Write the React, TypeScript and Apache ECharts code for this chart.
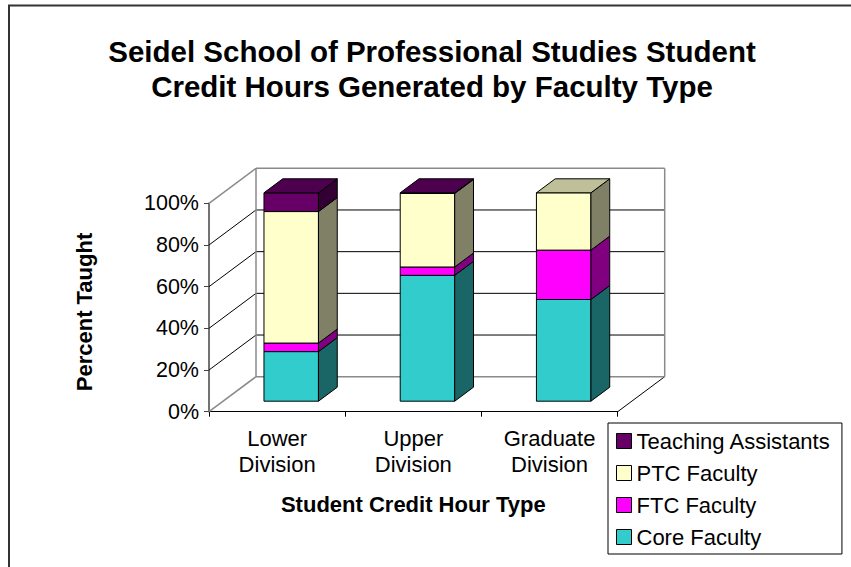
import { useEffect, useRef } from 'react';
import * as echarts from 'echarts';

const CATEGORIES = ['Lower\nDivision', 'Upper\nDivision', 'Graduate\nDivision'];
const SERIES_NAMES = ['Core Faculty', 'FTC Faculty', 'PTC Faculty', 'Teaching Assistants'];
const CORE = [23.8, 60.4, 48.8];
const FTC = [4.1, 4.0, 23.7];
const PTC = [63.1, 35.3, 27.5];
const TA = [9.0, 0.3, 0];
const Y_TICKS = [0, 20, 40, 60, 80, 100];

const FRONT_COLORS = ['#33CCCC', '#FF00FF', '#FFFFCC', '#660066'];
const SIDE_COLORS = ['#1A6666', '#800080', '#808066', '#330033'];
const TOP_COLORS = ['#269999', '#BF00BF', '#BFBF99', '#4D004D'];

const FONT = '"Liberation Sans", Arial, sans-serif';
const DEPTH_X = 47;
const DEPTH_Y = 35;
const BAR_W = 0.4;
const D_FRONT = 0.3;
const D_BACK = 0.7;
const GRAY = '#8a8a8a';
const BLACK = '#000000';

function seg(x1: number, y1: number, x2: number, y2: number, color: string, w: number) {
  return {
    type: 'line',
    shape: { x1, y1, x2, y2 },
    style: { stroke: color, lineWidth: w },
  };
}

export default function App() {
  const ref = useRef<HTMLDivElement>(null);

  useEffect(() => {
    if (!ref.current) return;
    const chart = echarts.init(ref.current, undefined, { renderer: 'svg' });
    const values = [CORE, FTC, PTC, TA];
    const n = CATEGORIES.length;

    const topIndex = CATEGORIES.map((_, i) => {
      let t = -1;
      values.forEach((arr, k) => {
        if (arr[i] > 0) t = k;
      });
      return t;
    });

    const renderWalls = (_params: any, api: any) => {
      const bw = api.size([1, 0])[0];
      const x0 = api.coord([0, 0])[0] - bw / 2;
      const x1 = api.coord([n - 1, 0])[0] + bw / 2;
      const yOf = (v: number) => api.coord([0, v])[1];
      const last = Y_TICKS.length - 1;
      const yMin = yOf(Y_TICKS[0]);
      const yMax = yOf(Y_TICKS[last]);
      const children: any[] = [];
      Y_TICKS.forEach((v, k) => {
        const y = yOf(v);
        if (k !== 0 && k !== last) {
          children.push(seg(x0, y, x0 + DEPTH_X, y - DEPTH_Y, BLACK, 1));
          children.push(seg(x0 + DEPTH_X, y - DEPTH_Y, x1 + DEPTH_X, y - DEPTH_Y, BLACK, 1));
        }
      });
      children.push(seg(x1, yMin, x1 + DEPTH_X, yMin - DEPTH_Y, BLACK, 1));
      [Y_TICKS[0], Y_TICKS[last]].forEach((v) => {
        const y = yOf(v);
        children.push(seg(x0, y, x0 + DEPTH_X, y - DEPTH_Y, GRAY, 1.5));
        children.push(seg(x0 + DEPTH_X, y - DEPTH_Y, x1 + DEPTH_X, y - DEPTH_Y, GRAY, 1.5));
      });
      children.push(seg(x0 + DEPTH_X, yMin - DEPTH_Y, x0 + DEPTH_X, yMax - DEPTH_Y, GRAY, 1.5));
      children.push(seg(x1 + DEPTH_X, yMin - DEPTH_Y, x1 + DEPTH_X, yMax - DEPTH_Y, GRAY, 1.5));
      return { type: 'group', children };
    };

    const makeRender = (k: number) => (_params: any, api: any) => {
      const i = api.value(0);
      const b = api.value(1);
      const t = api.value(2);
      const isTop = api.value(3) === 1;
      if (t - b <= 0) return null;
      const bw = api.size([1, 0])[0];
      const c0 = api.coord([i, b]);
      const c1 = api.coord([i, t]);
      const fx = DEPTH_X * D_FRONT;
      const fy = DEPTH_Y * D_FRONT;
      const ddx = DEPTH_X * (D_BACK - D_FRONT);
      const ddy = DEPTH_Y * (D_BACK - D_FRONT);
      const w = bw * BAR_W;
      const xl = c0[0] - w / 2 + fx;
      const xr = xl + w;
      const yb = c0[1] - fy;
      const yt = c1[1] - fy;
      const stroke = { stroke: '#000', lineWidth: 1, lineJoin: 'round' };
      const children: any[] = [
        {
          type: 'rect',
          shape: { x: xl, y: yt, width: w, height: yb - yt },
          style: { fill: FRONT_COLORS[k], ...stroke },
        },
        {
          type: 'polygon',
          shape: { points: [[xr, yb], [xr, yt], [xr + ddx, yt - ddy], [xr + ddx, yb - ddy]] },
          style: { fill: SIDE_COLORS[k], ...stroke },
        },
      ];
      if (isTop) {
        children.push({
          type: 'polygon',
          shape: { points: [[xl, yt], [xr, yt], [xr + ddx, yt - ddy], [xl + ddx, yt - ddy]] },
          style: { fill: TOP_COLORS[k], ...stroke },
        });
      }
      return { type: 'group', children };
    };

    const barSeries = values.map((arr, k) => ({
      name: SERIES_NAMES[k],
      type: 'custom',
      renderItem: makeRender(k),
      itemStyle: { color: FRONT_COLORS[k] },
      encode: { x: 0, y: [1, 2] },
      clip: false,
      data: arr.map((v, i) => {
        let base = 0;
        for (let j = 0; j < k; j++) base += values[j][i];
        return [i, base, base + v, topIndex[i] === k ? 1 : 0];
      }),
    }));

    const legendOrder = [3, 2, 1, 0];

    chart.setOption({
      animation: false,
      backgroundColor: '#ffffff',
      textStyle: { fontFamily: FONT, color: '#000' },
      title: {
        text: 'Seidel School of Professional Studies Student\nCredit Hours Generated by Faculty Type',
        left: 432,
        top: 34,
        padding: 0,
        textAlign: 'center',
        textStyle: { fontFamily: FONT, fontSize: 29.5, fontWeight: 'bold', lineHeight: 35, color: '#000' },
      },
      grid: { left: 209, right: 233.3, top: 203.3, bottom: 155.3, containLabel: false },
      legend: {
        orient: 'vertical',
        left: 608,
        top: 423,
        icon: 'rect',
        itemWidth: 15,
        itemHeight: 15,
        itemGap: 10,
        padding: [7, 11, 6, 8],
        borderColor: '#000',
        borderWidth: 1,
        selectedMode: false,
        itemStyle: { borderColor: '#000', borderWidth: 1 },
        textStyle: { fontFamily: FONT, fontSize: 22, lineHeight: 22, color: '#000' },
        data: legendOrder.map((k) => ({
          name: SERIES_NAMES[k],
          itemStyle: { color: FRONT_COLORS[k], borderColor: '#000', borderWidth: 1 },
        })),
      },
      xAxis: {
        type: 'category',
        data: CATEGORIES,
        boundaryGap: true,
        axisLine: { show: true, lineStyle: { color: '#000', width: 1 } },
        axisTick: { show: true, alignWithLabel: false, length: 5, lineStyle: { color: '#000' } },
        axisLabel: { interval: 0, fontFamily: FONT, fontSize: 22, lineHeight: 26, margin: 14, color: '#000' },
        splitLine: { show: false },
        name: 'Student Credit Hour Type',
        nameLocation: 'middle',
        nameGap: 81.5,
        nameTextStyle: { fontFamily: FONT, fontSize: 22, fontWeight: 'bold', color: '#000' },
      },
      yAxis: {
        type: 'value',
        min: 0,
        max: 100,
        interval: 20,
        axisLine: { show: true, lineStyle: { color: '#444', width: 1.5 } },
        axisTick: { show: true, length: 5, lineStyle: { color: '#444' } },
        axisLabel: { formatter: '{value}%', fontFamily: FONT, fontSize: 21.5, margin: 10, color: '#000' },
        splitLine: { show: false },
        name: 'Percent Taught',
        nameLocation: 'middle',
        nameGap: 114,
        nameTextStyle: { fontFamily: FONT, fontSize: 22, fontWeight: 'bold', color: '#000', padding: [0, 9, 0, 0] },
      },
      graphic: [
        {
          type: 'rect',
          silent: true,
          shape: { x: 9, y: 5.5, width: 900, height: 700 },
          style: { fill: 'none', stroke: '#333', lineWidth: 2 },
        },
      ],
      series: [
        {
          name: 'walls',
          type: 'custom',
          silent: true,
          clip: false,
          renderItem: renderWalls,
          encode: { x: 0, y: 1 },
          data: [[0, 0]],
          z: 1,
        },
        ...barSeries.map((s) => ({ ...s, z: 2 })),
      ],
    });

    return () => chart.dispose();
  }, []);

  return (
    <div
      ref={ref}
      style={{ position: 'fixed', left: 0, top: 0, width: 851, height: 567, background: '#fff' }}
    />
  );
}
